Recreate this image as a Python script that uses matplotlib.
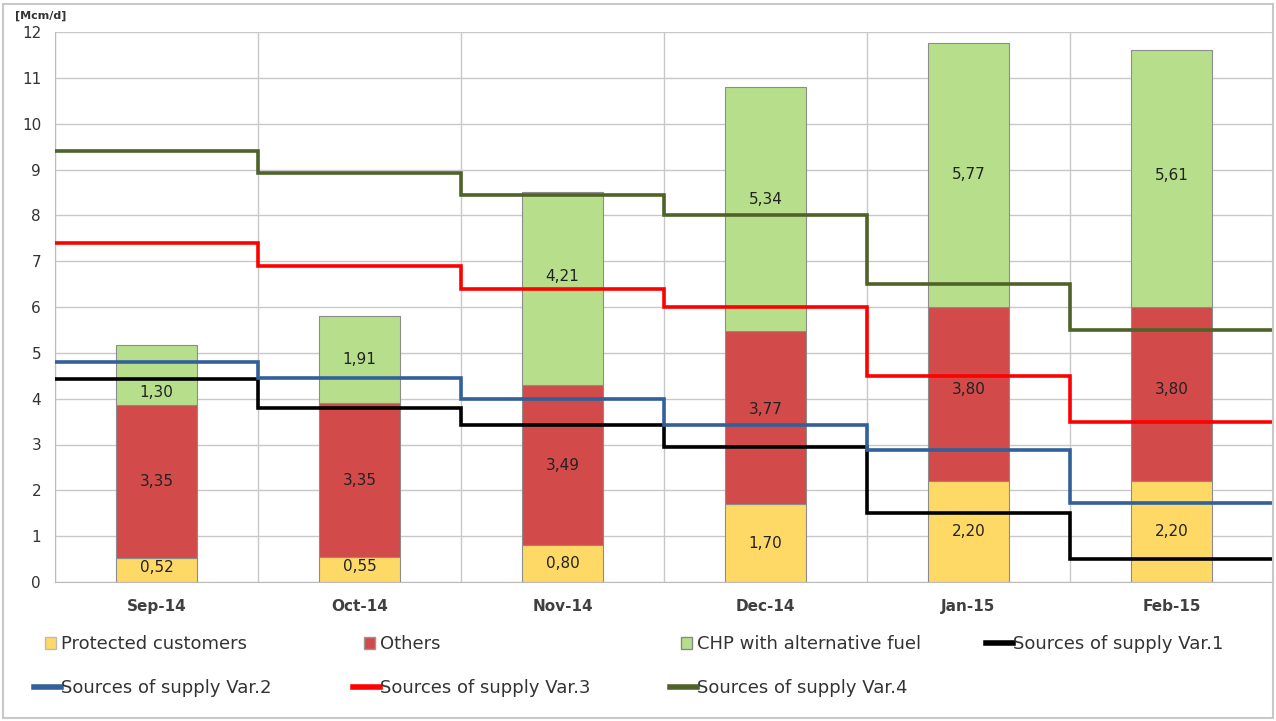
import matplotlib
matplotlib.use("Agg")
import matplotlib.pyplot as plt
from matplotlib.lines import Line2D
from matplotlib.patches import Patch, Rectangle
import numpy as np

months = ["Sep-14", "Oct-14", "Nov-14", "Dec-14", "Jan-15", "Feb-15"]
protected = [0.52, 0.55, 0.80, 1.70, 2.20, 2.20]
others = [3.35, 3.35, 3.49, 3.77, 3.80, 3.80]
chp = [1.30, 1.91, 4.21, 5.34, 5.77, 5.61]
var1 = [4.42, 3.80, 3.42, 2.95, 1.50, 0.50]
var2 = [4.80, 4.45, 4.00, 3.43, 2.88, 1.72]
var3 = [7.40, 6.90, 6.40, 6.00, 4.50, 3.50]
var4 = [9.40, 8.93, 8.45, 8.00, 6.50, 5.50]

plt.rcParams['font.family'] = ['DejaVu Sans']

fig = plt.figure(figsize=(12.76, 7.21), dpi=100)
ax = fig.add_axes([55/1276, 1-582/721, (1273-55)/1276, (582-32)/721])

x = np.arange(len(months))
w = 0.40
c_prot = "#FFD966"
c_oth = "#D24A4A"
c_chp = "#B7DF8B"
edge = "#8C8C8C"

b1 = ax.bar(x, protected, w, color=c_prot, edgecolor=edge, linewidth=0.8, zorder=2)
b2 = ax.bar(x, others, w, bottom=protected, color=c_oth, edgecolor=edge, linewidth=0.8, zorder=2)
bot3 = np.array(protected) + np.array(others)
b3 = ax.bar(x, chp, w, bottom=bot3, color=c_chp, edgecolor=edge, linewidth=0.8, zorder=2)

fmt = lambda v: f"{v:.2f}".replace(".", ",")
# small vertical nudges (pixels, + = up) for labels, as placed in the original
nudge = {(2, 0): -18, (2, 2): 12, (1, 3): 8, (2, 3): 9, (1, 4): 5, (1, 5): 5, (0, 0): 3, (0, 1): 3,
         (2, 5): 3}
bottoms = [np.zeros(len(months)), np.array(protected), bot3]
for si, vals in enumerate([protected, others, chp]):
    for i, v in enumerate(vals):
        yc = bottoms[si][i] + v / 2
        dy = nudge.get((si, i), 0) * 0.72
        ax.annotate(fmt(v), (x[i], yc), xytext=(0, dy), textcoords='offset points',
                    ha='center', va='center', fontsize=11, color="#222222", zorder=5)

edges = np.arange(-0.5, len(months) + 0.5, 1.0)
line_specs = [
    (var1, "#000000", "Sources of supply Var.1"),
    (var2, "#31609A", "Sources of supply Var.2"),
    (var3, "#FF0000", "Sources of supply Var.3"),
    (var4, "#4F6228", "Sources of supply Var.4"),
]
for vals, col, lab in line_specs:
    ax.stairs(vals, edges, baseline=None, color=col, linewidth=2.6, zorder=4)

ax.set_xlim(-0.5, len(months) - 0.5)
ax.set_ylim(0, 12)
ax.set_yticks(range(0, 13))
ax.set_xticks(x)
ax.set_xticklabels(months, fontsize=11, fontweight='bold', color="#404040")
ax.set_xticks(edges, minor=True)
ax.tick_params(axis='both', which='both', length=0)
ax.tick_params(axis='y', labelsize=11, pad=10, labelcolor="#333333")
ax.tick_params(axis='x', pad=12)
ax.grid(axis='y', which='major', color="#C8C8C8", linewidth=1.0, zorder=0)
ax.grid(axis='x', which='minor', color="#C8C8C8", linewidth=1.0, zorder=0)
ax.grid(axis='x', which='major', visible=False)
ax.set_axisbelow(True)
for s in ['top', 'right']:
    ax.spines[s].set_visible(False)
ax.spines['left'].set_color("#BBBBBB")
ax.spines['bottom'].set_color("#BBBBBB")

fig.text(15/1276, 1-16/721, "[Mcm/d]", fontsize=8, fontweight='bold', color="#333333",
         ha='left', va='center')

entries = [
    (Patch(facecolor=c_prot, edgecolor="#BBBBBB"), "Protected customers", 61, 644, 'patch'),
    (Patch(facecolor=c_oth, edgecolor="#999999"), "Others", 380, 644, 'patch'),
    (Patch(facecolor=c_chp, edgecolor="#888888"), "CHP with alternative fuel", 697, 644, 'patch'),
    (Line2D([], [], color="#000000", linewidth=4), "Sources of supply Var.1", 1013, 644, 'line'),
    (Line2D([], [], color="#31609A", linewidth=4), "Sources of supply Var.2", 61, 688, 'line'),
    (Line2D([], [], color="#FF0000", linewidth=4), "Sources of supply Var.3", 380, 688, 'line'),
    (Line2D([], [], color="#4F6228", linewidth=4), "Sources of supply Var.4", 697, 688, 'line'),
]
fs = 13
for h, lab, tx, ty, kind in entries:
    if kind == 'patch':
        hl, hh, pad = 0.65, 0.65, 0.25
    else:
        hl, hh, pad = 1.45, 0.7, 0.02
    px_per_fs = fs * 100 / 72
    left = tx - (hl + pad) * px_per_fs
    leg = fig.legend(handles=[h], labels=[lab], loc='center left',
                     bbox_to_anchor=(left/1276, 1-ty/721), frameon=False,
                     fontsize=fs, handlelength=hl, handleheight=hh,
                     handletextpad=pad, borderpad=0, borderaxespad=0)
    for t in leg.get_texts():
        t.set_color("#333333")

fig.add_artist(Rectangle((3/1276, 3/721), 1270/1276, 714/721, transform=fig.transFigure,
                         fill=False, edgecolor="#C8C8C8", linewidth=1.5))

fig.savefig("out.png", dpi=100)
